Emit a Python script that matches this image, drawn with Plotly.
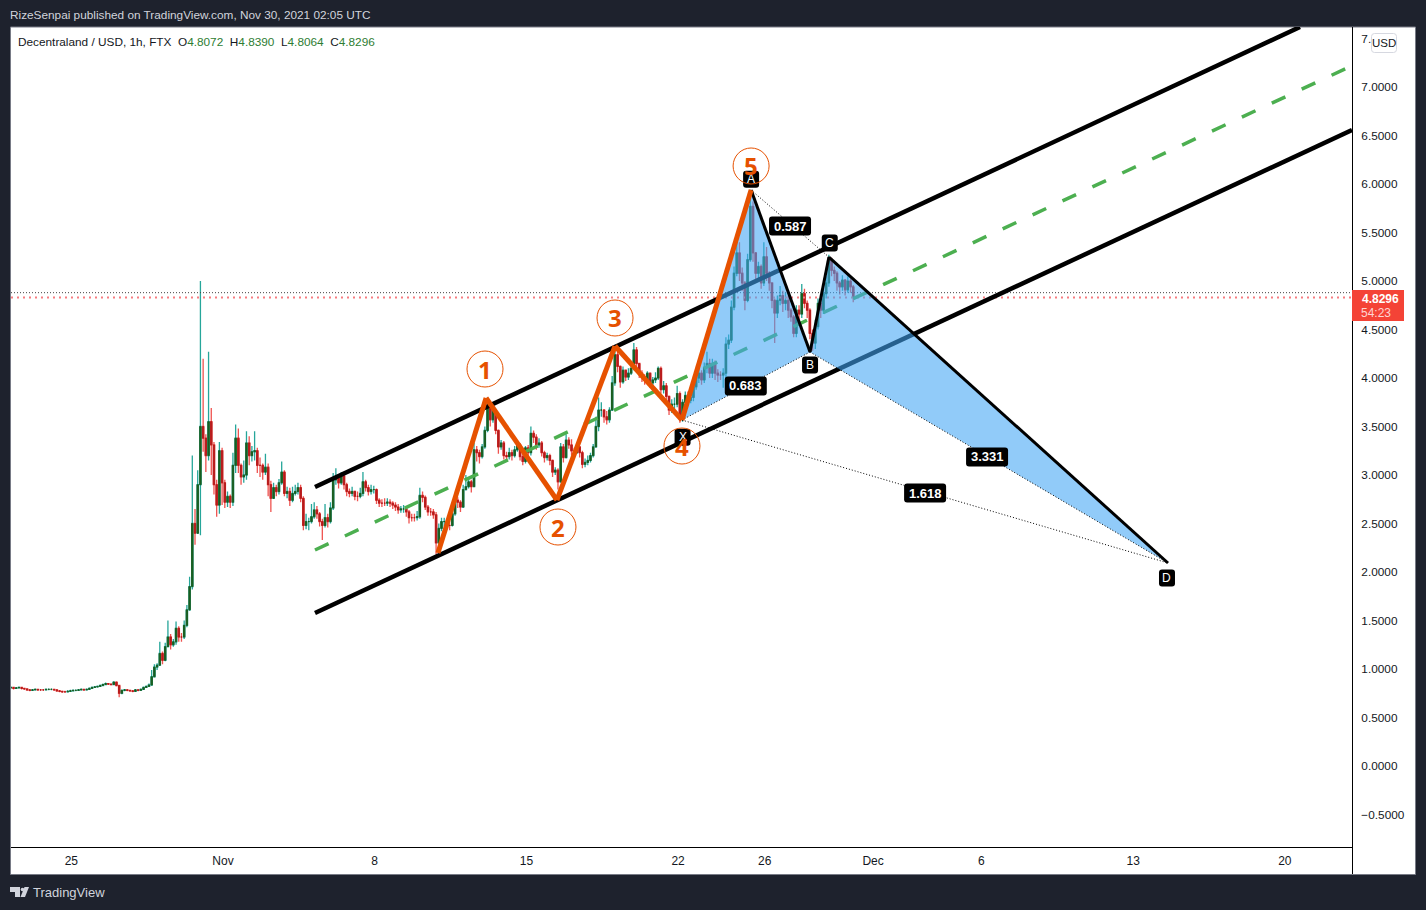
#!/usr/bin/env python3
# Decentraland / USD 1h chart with channel, elliott count and XABCD pattern

import pandas as pd
import plotly.graph_objects as go

W = 1426
H = 910

# candles, about one every 3 hours
closes = [
    .805,.81,.80,.805,.81,.80,.795,.785,.78,.785,.79,.785,.785,.785,.79,.79,.79,.785,.775,.77,
    .765,.765,.77,.775,.78,.78,.785,.79,.785,.79,.80,.81,.815,.82,.83,.84,.85,.845,.84,.865,
    .83,.75,.78,.785,.78,.775,.77,.785,.78,.79,.81,.82,
    .835,.92,1.02,1.04,1.16,1.09,1.23,1.33,1.25,1.28,1.42,1.33,1.33,1.45,1.61,1.85,2.5,2.4,2.9,3.5,
    3.38,3.2,3.55,3.31,2.9,2.69,3.25,2.92,2.72,2.78,2.72,3.1,3.38,3.1,2.98,3.0,3.33,3.2,3.24,3.25,
    3.1,3.1,3.03,3.08,2.9,2.76,
    2.87,2.83,2.92,3.03,2.81,2.83,2.74,2.81,2.83,2.87,2.76,2.48,2.52,2.52,2.57,2.64,2.6,2.52,2.48,2.56,
    2.52,2.66,2.95,2.97,2.92,2.99,2.9,2.83,2.81,2.83,2.78,2.78,2.81,2.93,2.87,2.83,2.85,2.85,2.74,2.71,
    2.71,2.71,2.72,2.71,2.69,2.67,2.64,2.65,2.65,2.62,2.56,2.56,2.56,2.57,2.79,2.77,2.67,2.62,2.62,2.59,
    2.3,2.45,2.52,2.52,2.48,2.48,2.6,2.74,2.72,2.67,2.85,
    2.88,2.93,2.88,3.26,3.23,3.19,3.29,3.46,3.72,3.57,3.67,3.46,3.29,3.33,3.2,3.19,3.23,3.2,3.26,3.31,
    3.19,3.14,3.28,3.23,3.43,3.39,3.31,3.33,3.23,3.18,3.2,3.15,3.03,3.05,2.93,3.29,3.18,3.36,3.31,3.25,
    3.23,3.29,3.23,3.11,3.13,3.15,3.2,3.29,3.5,3.67,3.67,3.6,3.57,3.67,3.95,4.24,4.12,3.96,4.08,4.01,
    4.05,4.1,4.29,4.15,4.05,4.01,3.98,4.05,3.95,3.98,4.0,4.1,3.88,3.92,3.81,3.67,3.73,3.73,3.84,3.59,
    3.75,3.82,
    3.77,3.8,3.91,4.0,4.05,3.98,4.11,4.15,4.05,4.15,4.05,4.03,4.03,4.05,4.35,4.39,4.73,5.08,5.29,5.08,
    4.98,4.8,5.22,5.77,5.29,5.08,5.15,4.98,5.25,5.08,4.98,4.8,4.67,4.8,4.85,4.77,4.8,4.7,4.63,4.46,
    4.7,4.66,4.87,4.77,4.7,4.46,4.36,4.53,4.77,4.7,4.87,4.98,5.22,5.11,5.08,4.98,4.94,5.01,4.91,5.0,
    4.94,4.83,
]
highs = [
    .815,.82,.815,.815,.82,.81,.805,.795,.79,.795,.80,.795,.795,.795,.80,.80,.80,.795,.785,.78,
    .775,.775,.78,.785,.79,.79,.795,.80,.795,.80,.81,.82,.825,.83,.84,.85,.86,.855,.85,.875,
    .865,.83,.79,.795,.79,.785,.78,.795,.79,.80,.82,.83,
    .85,.99,1.05,1.06,1.28,1.18,1.27,1.5,1.36,1.31,1.49,1.44,1.37,1.5,1.66,1.95,3.2,2.65,3.05,5.0,
    4.2,3.42,4.27,3.69,3.34,2.95,3.34,3.28,2.95,2.83,2.8,3.23,3.52,3.48,3.12,3.15,3.45,3.4,3.3,3.45,
    3.28,3.18,3.12,3.22,3.12,2.94,
    2.92,2.9,2.96,3.14,3.05,2.88,2.87,2.88,2.9,2.92,2.9,2.78,2.6,2.56,2.7,2.72,2.68,2.62,2.55,2.7,
    2.6,2.72,3.02,3.07,3.0,3.03,3.0,2.92,2.86,2.88,2.84,2.83,2.87,3.03,2.95,2.9,2.9,2.89,2.86,2.76,
    2.75,2.76,2.76,2.75,2.73,2.72,2.7,2.68,2.69,2.67,2.64,2.6,2.6,2.63,2.87,2.83,2.79,2.69,2.66,2.65,
    2.62,2.5,2.56,2.56,2.53,2.53,2.64,2.78,2.77,2.74,2.9,
    3.0,2.98,2.95,3.33,3.3,3.26,3.32,3.5,3.8,3.75,3.72,3.68,3.47,3.36,3.35,3.24,3.28,3.26,3.3,3.36,
    3.33,3.22,3.3,3.31,3.5,3.46,3.42,3.38,3.35,3.25,3.23,3.22,3.16,3.08,3.07,3.33,3.32,3.42,3.39,3.37,
    3.28,3.32,3.3,3.25,3.17,3.2,3.23,3.32,3.6,3.8,3.75,3.68,3.66,3.7,4.02,4.34,4.28,4.13,4.12,4.08,
    4.1,4.14,4.36,4.32,4.15,4.08,4.04,4.07,4.03,4.01,4.06,4.12,4.12,3.97,3.95,3.82,3.78,3.8,3.92,3.86,
    3.78,3.86,
    3.86,3.86,3.96,4.06,4.12,4.08,4.16,4.27,4.2,4.2,4.18,4.09,4.07,4.1,4.42,4.45,4.8,5.15,5.4,5.4,
    5.14,5.0,5.28,5.85,5.82,5.3,5.2,5.17,5.4,5.35,5.1,4.98,4.82,4.85,4.95,4.9,4.88,4.85,4.72,4.65,
    4.75,4.75,4.97,4.92,4.8,4.72,4.5,4.6,4.82,4.82,4.92,5.05,5.27,5.24,5.15,5.1,5.0,5.06,5.02,5.05,
    5.02,4.96,
]
lows = [
    .795,.80,.79,.795,.80,.79,.785,.775,.77,.775,.78,.775,.775,.775,.78,.78,.78,.775,.765,.76,
    .755,.755,.76,.765,.77,.77,.775,.78,.775,.78,.79,.80,.805,.81,.82,.83,.84,.835,.83,.84,
    .82,.71,.74,.77,.77,.765,.76,.765,.77,.78,.79,.81,
    .82,.83,.93,.99,1.03,1.05,1.08,1.23,1.2,1.23,1.25,1.28,1.28,1.31,1.43,1.6,1.82,2.28,2.4,2.38,
    3.24,3.03,3.15,3.0,2.8,2.57,2.6,2.69,2.66,2.67,2.66,2.68,3.02,3.02,2.9,2.92,2.95,3.1,3.14,3.15,
    3.02,2.98,2.95,3.0,2.78,2.62,
    2.78,2.78,2.8,2.9,2.78,2.76,2.68,2.72,2.79,2.8,2.72,2.43,2.44,2.43,2.5,2.55,2.55,2.47,2.33,2.46,
    2.46,2.5,2.64,2.9,2.86,2.9,2.85,2.78,2.77,2.78,2.74,2.73,2.76,2.78,2.83,2.79,2.8,2.81,2.7,2.67,
    2.67,2.68,2.68,2.67,2.65,2.63,2.6,2.61,2.61,2.57,2.5,2.52,2.52,2.53,2.55,2.72,2.64,2.58,2.58,2.55,
    2.18,2.28,2.42,2.47,2.44,2.43,2.47,2.58,2.66,2.62,2.66,
    2.84,2.86,2.82,2.88,3.14,3.12,3.17,3.27,3.44,3.5,3.54,3.42,3.22,3.26,3.16,3.14,3.16,3.15,3.18,3.24,
    3.15,3.1,3.12,3.18,3.2,3.33,3.26,3.28,3.19,3.13,3.15,3.1,2.98,3.0,2.85,2.92,3.13,3.17,3.27,3.2,
    3.18,3.22,3.18,3.07,3.08,3.1,3.13,3.18,3.28,3.45,3.6,3.54,3.52,3.54,3.66,3.92,4.06,3.9,3.94,3.97,
    3.98,4.03,4.08,4.1,4.0,3.96,3.93,3.96,3.9,3.92,3.95,3.98,3.84,3.84,3.76,3.62,3.64,3.68,3.7,3.54,
    3.55,3.72,
    3.72,3.74,3.76,3.88,3.95,3.93,3.95,4.05,4.0,4.0,3.98,3.96,3.98,3.9,4.0,4.3,4.36,4.7,5.05,5.0,
    4.9,4.7,4.78,5.2,5.2,5.02,5.0,4.92,4.95,5.0,4.9,4.72,4.36,4.62,4.75,4.68,4.7,4.62,4.58,4.42,
    4.42,4.6,4.62,4.72,4.62,4.4,4.28,4.3,4.5,4.62,4.66,4.82,4.94,5.05,5.0,4.9,4.86,4.9,4.85,4.88,
    4.88,4.78,
]
n = min(len(closes), len(highs), len(lows))
closes, highs, lows = closes[:n], highs[:n], lows[:n]
opens = [closes[0]] + closes[:-1]
times = pd.date_range(end="2021-11-30 02:00", periods=n, freq="3h")
body_top = [max(o, c) for o, c in zip(opens, closes)]
body_bottom = [min(o, c) for o, c in zip(opens, closes)]

# axis labels
date_ticks = ["2021-10-25", "2021-11-01", "2021-11-08", "2021-11-15", "2021-11-22",
              "2021-11-26", "2021-12-01", "2021-12-06", "2021-12-13", "2021-12-20"]
date_labels = ["25", "Nov", "8", "15", "22", "26", "Dec", "6", "13", "20"]
price_ticks = [-0.5, 0, 0.5, 1, 1.5, 2, 2.5, 3, 3.5, 4, 4.5, 5, 5.5, 6, 6.5, 7, 7.5]
price_labels = ["\u22120.5000", "0.0000", "0.5000", "1.0000", "1.5000", "2.0000", "2.5000", "3.0000",
                "3.5000", "4.0000", "4.5000", "5.0000", "5.5000", "6.0000", "6.5000", "7.0000", "7."]

# drawings: (date, price)
upper_channel = [("2021-11-05 05:53", 2.876), ("2021-12-20 16:48", 7.619)]
lower_channel = [("2021-11-05 05:53", 1.577), ("2021-12-23 02:24", 6.557)]
mid_channel = [("2021-11-05 05:53", 2.227), ("2021-12-22 20:53", 7.196)]

wave_start = ("2021-11-10 22:05", 2.196)
wave_1 = ("2021-11-13 03:22", 3.794)
wave_2 = ("2021-11-16 09:50", 2.742)
wave_3 = ("2021-11-19 02:10", 4.33)
point_x = ("2021-11-22 04:19", 3.567)
point_a = ("2021-11-25 08:53", 5.938)
point_b = ("2021-11-28 02:10", 4.268)
point_c = ("2021-11-28 23:04", 5.247)
point_d = ("2021-12-14 14:38", 2.093)

wave_circles = [("1", "2021-11-13 02:10", 4.093), ("2", "2021-11-16 11:00", 2.464),
                ("3", "2021-11-19 02:10", 4.619), ("4", "2021-11-22 04:19", 3.299),
                ("5", "2021-11-25 08:53", 6.186)]
point_labels = [("X", "2021-11-22 05:00", 3.39), ("A", "2021-11-25 08:53", 6.05),
                ("B", "2021-11-28 02:10", 4.134), ("C", "2021-11-29 00:00", 5.392),
                ("D", "2021-12-14 13:30", 1.938)]
ratio_labels = [("0.587", "2021-11-27 04:00", 5.567), ("0.683", "2021-11-25 03:00", 3.918),
                ("3.331", "2021-12-06 06:14", 3.186), ("1.618", "2021-12-03 09:36", 2.814)]

last_price = 4.8296
prev_price = 4.88

BG = "#1e222d"
TEXT = "#131722"
ORANGE = "#e65100"
FONT = "Liberation Sans"


def px(x):
    return x / W


def py(y):
    return 1 - y / H


def seg(p, q, color, width, dash="solid"):
    return dict(type="line", xref="x", yref="y", x0=p[0], y0=p[1], x1=q[0], y1=q[1],
                line=dict(color=color, width=width, dash=dash), layer="above")


def poly(points, fill):
    path = "M" + " L".join(f"{d.replace(' ', '_')},{v}" for d, v in points) + " Z"
    return dict(type="path", xref="x", yref="y", path=path, fillcolor=fill, line_width=0, layer="above")


def rounded_path(a, b, r):
    return (f"M{-a + r},{-b} L{a - r},{-b} Q{a},{-b} {a},{-b + r} L{a},{b - r} Q{a},{b} {a - r},{b} "
            f"L{-a + r},{b} Q{-a},{b} {-a},{b - r} L{-a},{-b + r} Q{-a},{-b} {-a + r},{-b} Z")


def rounded_box(date, price, w, h, r=3):
    return dict(type="path", xref="x", yref="y", xsizemode="pixel", ysizemode="pixel",
                xanchor=date, yanchor=price, path=rounded_path(w / 2, h / 2, r),
                fillcolor="black", line_width=0, layer="above")


fig = go.Figure()

# wicks first, darker bodies on top of them
fig.add_trace(go.Candlestick(
    x=times, open=opens, high=highs, low=lows, close=closes,
    increasing=dict(line=dict(color="#26a69a", width=1.3), fillcolor="#26a69a"),
    decreasing=dict(line=dict(color="#ef5350", width=1.3), fillcolor="#ef5350"),
    hoverinfo="skip", showlegend=False))
fig.add_trace(go.Candlestick(
    x=times, open=opens, high=body_top, low=body_bottom, close=closes,
    increasing=dict(line=dict(color="#1b5e20", width=1), fillcolor="#1b5e20"),
    decreasing=dict(line=dict(color="#b71c1c", width=1), fillcolor="#b71c1c"),
    hoverinfo="skip", showlegend=False))

shapes = []
# white panel and axis borders
shapes.append(dict(type="rect", xref="paper", yref="paper", x0=px(10.5), x1=px(1415.5), y0=py(874.5), y1=py(27),
                   fillcolor="white", line=dict(color="#787b86", width=1), layer="below"))
shapes.append(dict(type="line", xref="paper", yref="paper", x0=px(1352.5), x1=px(1352.5), y0=py(847), y1=py(874),
                   line=dict(color="black", width=1), layer="above"))

# last price lines
shapes.append(dict(type="line", xref="paper", yref="y", x0=px(11), x1=px(1352), y0=prev_price, y1=prev_price,
                   line=dict(color="#444444", width=1, dash="1px,2px"), layer="above"))
shapes.append(dict(type="line", xref="paper", yref="y", x0=px(11), x1=px(1352), y0=last_price, y1=last_price,
                   line=dict(color="#f77c80", width=2, dash="2px,4px"), layer="above"))

# channel
shapes.append(seg(upper_channel[0], upper_channel[1], "black", 4.5))
shapes.append(seg(lower_channel[0], lower_channel[1], "black", 4.5))
shapes.append(seg(mid_channel[0], mid_channel[1], "#4caf50", 3.5, "15px,18px"))

# XABCD pattern
shapes.append(poly([point_x, point_a, point_b], "rgba(66,165,245,0.58)"))
shapes.append(poly([point_b, point_c, point_d], "rgba(66,165,245,0.58)"))
dotted = "1px,2px"
shapes.append(seg(point_x, point_b, "black", 1, dotted))
shapes.append(seg(point_a, point_c, "black", 1, dotted))
shapes.append(seg(point_b, point_d, "black", 1, dotted))
shapes.append(seg(point_x, point_d, "black", 1, dotted))
shapes.append(seg(point_x, point_a, "black", 3))
shapes.append(seg(point_a, point_b, "black", 3))
shapes.append(seg(point_b, point_c, "black", 3))
shapes.append(seg(point_c, point_d, "black", 3))

# elliott count
wave = [wave_start, wave_1, wave_2, wave_3, point_x, point_a]
for p, q in zip(wave[:-1], wave[1:]):
    shapes.append(seg(p, q, ORANGE, 5))

annotations = []
for name, d, v in ratio_labels:
    shapes.append(rounded_box(d, v, 42, 19))
    annotations.append(dict(x=d, y=v, xref="x", yref="y", text=f"<b>{name}</b>", showarrow=False,
                            font=dict(family=FONT, size=13, color="white")))
for name, d, v in point_labels:
    shapes.append(rounded_box(d, v, 16, 17))
    annotations.append(dict(x=d, y=v, xref="x", yref="y", text=name, showarrow=False,
                            font=dict(family=FONT, size=12, color="white")))
for name, d, v in wave_circles:
    shapes.append(dict(type="circle", xref="x", yref="y", xsizemode="pixel", ysizemode="pixel",
                       xanchor=d, yanchor=v, x0=-18, x1=18, y0=-18, y1=18,
                       line=dict(color=ORANGE, width=1), layer="above"))
    annotations.append(dict(x=d, y=v, xref="x", yref="y", text=f"<b>{name}</b>", showarrow=False,
                            font=dict(family="Open Sans", size=24, color=ORANGE)))

# price tag and USD button on the right axis
shapes.append(dict(type="rect", xref="paper", yref="paper", x0=px(1352), x1=px(1404), y0=py(321), y1=py(290),
                   fillcolor="#f44336", line_width=0, layer="above"))
shapes.append(dict(type="path", xref="paper", yref="paper", xsizemode="pixel", ysizemode="pixel",
                   xanchor=px(1384), yanchor=py(43), path=rounded_path(12.5, 9.5, 3),
                   fillcolor="white", line=dict(color="#d6d8e0", width=1), layer="above"))

# logo mark bottom left
logo_t = (f"M{px(10)},{py(887)} L{px(20)},{py(887)} L{px(20)},{py(897)} L{px(15)},{py(897)} "
          f"L{px(15)},{py(892)} L{px(10)},{py(892)} Z")
logo_s = f"M{px(29)},{py(887)} L{px(25)},{py(897)} L{px(20.5)},{py(897)} L{px(24.5)},{py(887)} Z"
for path in [logo_t, logo_s]:
    shapes.append(dict(type="path", xref="paper", yref="paper", path=path, fillcolor="#d1d4dc", line_width=0))
shapes.append(dict(type="circle", xref="paper", yref="paper", x0=px(20.7), x1=px(24.3), y0=py(891.3), y1=py(887.7),
                   fillcolor="#d1d4dc", line_width=0))


def text_at(x, y, text, size, color, family=FONT, anchor="left"):
    annotations.append(dict(x=px(x), y=py(y), xref="paper", yref="paper", text=text, showarrow=False,
                            xanchor=anchor, yanchor="middle", align=anchor,
                            font=dict(family=family, size=size, color=color)))


text_at(8, 15, "RizeSenpai published on TradingView.com, Nov 30, 2021 02:05 UTC", 11.8, "#d1d4dc")
green = '<span style="color:#2e7d32">'
text_at(16, 42, "Decentraland / USD, 1h, FTX  "
        f"O{green}4.8072</span>  H{green}4.8390</span>  L{green}4.8064</span>  C{green}4.8296</span>",
        11.8, TEXT)
text_at(1384, 43, "USD", 11.5, TEXT, anchor="center")
text_at(1380, 299, "<b>4.8296</b>", 12, "white", anchor="center")
text_at(1376, 313, "54:23", 12, "#ffd5d2", anchor="center")
text_at(31, 892, "TradingView", 13, "#d1d4dc")

fig.update_layout(
    width=W, height=H,
    margin=dict(l=0, r=0, t=0, b=0),
    paper_bgcolor=BG,
    plot_bgcolor="white",
    font=dict(family=FONT, size=12, color=TEXT),
    showlegend=False,
    shapes=shapes,
    annotations=annotations,
    xaxis=dict(domain=[px(11), px(1352)], range=["2021-10-22 05:12", "2021-12-23 02:24"], type="date",
               rangeslider=dict(visible=False), showgrid=False, zeroline=False,
               showline=True, linecolor="black", linewidth=1,
               tickmode="array", tickvals=date_ticks, ticktext=date_labels,
               ticks="outside", ticklen=3, tickcolor="rgba(0,0,0,0)",
               tickfont=dict(family=FONT, size=12, color=TEXT), anchor="y"),
    yaxis=dict(domain=[py(847), py(27)], range=[-0.835, 7.619], side="right", showgrid=False, zeroline=False,
               showline=True, linecolor="black", linewidth=1,
               tickmode="array", tickvals=price_ticks, ticktext=price_labels,
               ticks="outside", ticklen=6, tickcolor="rgba(0,0,0,0)",
               tickfont=dict(family=FONT, size=11.8, color=TEXT), anchor="x"),
)

fig.write_html("out.html", config=dict(displayModeBar=False), post_script="document.body.style.margin='0';")
